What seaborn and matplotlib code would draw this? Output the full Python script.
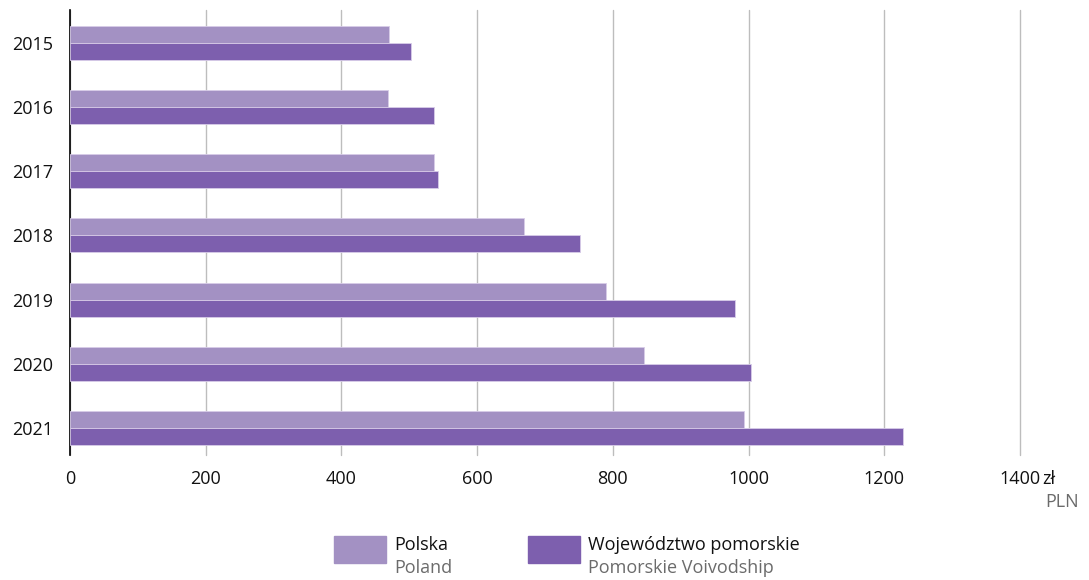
import pandas as pd
import seaborn as sns
import matplotlib.pyplot as plt
from matplotlib.patches import Rectangle

# Dane
lata = ["2015", "2016", "2017", "2018", "2019", "2020", "2021"]
polska = [470, 468, 536, 669, 790, 846, 993]
pomorskie = [502, 536, 542, 751, 980, 1003, 1227]
serie = ["Polska", "Województwo pomorskie"]
serie_en = ["Poland", "Pomorskie Voivodship"]
kolory = ["#A391C3", "#7D5FAE"]
ticki = [0, 200, 400, 600, 800, 1000, 1200, 1400]

df = pd.DataFrame({
    "Rok": lata * 2,
    "Wartosc": polska + pomorskie,
    "Seria": [serie[0]] * len(lata) + [serie[1]] * len(lata),
})

sns.set_style("white")
plt.rcParams["font.family"] = ["Open Sans", "DejaVu Sans"]
plt.rcParams["text.color"] = "#111111"
plt.rcParams["xtick.color"] = "#111111"
plt.rcParams["ytick.color"] = "#111111"

fig = plt.figure(figsize=(10.89, 5.80), dpi=100)
ax = fig.add_axes([70 / 1089, 1 - 455 / 580, 950 / 1089, 445 / 580])

sns.barplot(data=df, y="Rok", x="Wartosc", hue="Seria", orient="h",
            palette=kolory, saturation=1, width=0.53, ax=ax, legend=False,
            edgecolor="#D8CCE8", linewidth=0.6, zorder=3)

ax.set_xlim(0, 1400)
ax.set_ylim(6.42, -0.51)
ax.set_xticks(ticki)
ax.set_xticklabels([str(t) for t in ticki], fontsize=13)
ax.tick_params(axis="y", labelsize=13, length=0, pad=12)
ax.tick_params(axis="x", length=0, pad=11)
ax.xaxis.grid(True, color="#BDBDBD", linewidth=1, zorder=0)
for gl in ax.get_xgridlines():
    gl.set_clip_on(False)
ax.set_axisbelow(True)
for s in ["top", "right", "bottom"]:
    ax.spines[s].set_visible(False)
ax.spines["left"].set_color("black")
ax.spines["left"].set_linewidth(1.2)
ax.set_xlabel("")
ax.set_ylabel("")

fig.text(1042 / 1089, 1 - 479 / 580, "zł", fontsize=13, va="center", ha="left")
fig.text(1045 / 1089, 1 - 502 / 580, "PLN", fontsize=13, va="center", ha="left", color="#6b6b6b")

# Legenda
poz = [334, 528]
for i in range(2):
    fig.patches.append(Rectangle((poz[i] / 1089, 1 - 563 / 580), 52 / 1089, 27 / 580,
                                 transform=fig.transFigure, color=kolory[i]))
    fig.text((poz[i] + 60) / 1089, 1 - 545 / 580, serie[i], fontsize=13, va="center")
    fig.text((poz[i] + 60) / 1089, 1 - 568 / 580, serie_en[i], fontsize=13, va="center", color="#6b6b6b")

fig.savefig("out.png", dpi=100)
